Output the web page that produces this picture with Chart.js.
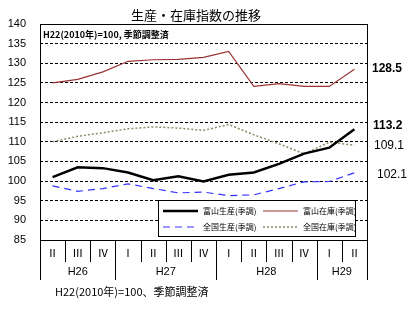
<!DOCTYPE html>
<html>
<head>
<meta charset="utf-8">
<script src="https://cdn.jsdelivr.net/npm/chart.js@4.4.1/dist/chart.umd.min.js"></script>
<style>
html, body { margin: 0; padding: 0; background: #fff; }
#wrap { width: 411px; height: 322px; }
</style>
</head>
<body>
<div id="wrap"><canvas id="stockChart" width="411" height="322"></canvas></div>
<script>
// quarters H26 II .. H29 II
var quarters = ['Ⅱ', 'Ⅲ', 'Ⅳ', 'Ⅰ', 'Ⅱ', 'Ⅲ', 'Ⅳ', 'Ⅰ', 'Ⅱ', 'Ⅲ', 'Ⅳ', 'Ⅰ', 'Ⅱ'];
var years = ['H26', 'H27', 'H28', 'H29'];
var yearSpans = [3, 4, 4, 2];

var toyamaProd = [101.0, 103.5, 103.3, 102.2, 100.2, 101.2, 99.9, 101.6, 102.2, 104.4, 107.0, 108.5, 113.2];
var toyamaStock = [125.0, 125.9, 127.8, 130.5, 130.9, 131.0, 131.5, 133.0, 124.1, 124.8, 124.1, 124.1, 128.5];
var nationProd = [98.8, 97.4, 98.1, 99.3, 98.1, 97.0, 97.2, 96.3, 96.5, 98.1, 99.8, 99.9, 102.1];
var nationStock = [110.0, 111.4, 112.3, 113.3, 113.8, 113.5, 112.9, 114.4, 111.8, 109.5, 106.9, 109.9, 109.1];

var yMin = 85, yMax = 140, yStep = 5;

var JP = '"Noto Sans CJK JP", sans-serif';
var NUM = '"Liberation Sans", Arial, sans-serif';

var extras = {
    id: 'extras',
    beforeDatasetsDraw: function (chart) {
        var ctx = chart.ctx, a = chart.chartArea;
        var xs = chart.scales.x;
        ctx.save();
        ctx.strokeStyle = '#000';
        ctx.lineWidth = 1;
        // plot frame
        ctx.strokeRect(a.left + 0.5, a.top + 0.5, a.right - a.left, a.bottom - a.top);

        // category box under the axis
        var cell = (a.right - a.left) / quarters.length;
        ctx.beginPath();
        for (var i = 1; i < quarters.length; i++) {
            var x = Math.round(a.left + i * cell) + 0.5;
            ctx.moveTo(x, a.bottom);
            ctx.lineTo(x, a.bottom + 22);
        }
        var idx = 0;
        ctx.moveTo(a.left + 0.5, a.bottom);
        ctx.lineTo(a.left + 0.5, a.bottom + 40);
        for (var j = 0; j < yearSpans.length; j++) {
            idx += yearSpans[j];
            var xe = Math.round(a.left + idx * cell) + 0.5;
            ctx.moveTo(xe, a.bottom);
            ctx.lineTo(xe, a.bottom + 40);
        }
        ctx.stroke();

        ctx.fillStyle = '#000';
        ctx.textAlign = 'center';
        ctx.textBaseline = 'middle';
        ctx.font = '11px ' + JP;
        for (var k = 0; k < quarters.length; k++) {
            ctx.fillText(quarters[k], xs.getPixelForValue(k), a.bottom + 13);
        }
        ctx.font = '11px ' + NUM;
        idx = 0;
        for (var m = 0; m < years.length; m++) {
            var x0 = a.left + idx * cell;
            idx += yearSpans[m];
            var x1 = a.left + idx * cell;
            ctx.fillText(years[m], (x0 + x1) / 2, a.bottom + 32);
        }

        // title and notes
        ctx.font = '13px ' + JP;
        ctx.fillText('生産・在庫指数の推移', 196, 15);
        ctx.textAlign = 'left';
        ctx.font = 'bold 9px ' + JP;
        ctx.fillText('H22(2010年)=100, 季節調整済', a.left + 3, 35);
        ctx.font = '11px ' + JP;
        ctx.fillText('H22(2010年)=100、季節調整済', 55, 292);
        ctx.restore();
    },
    afterDatasetsDraw: function (chart) {
        var ctx = chart.ctx, ys = chart.scales.y;
        ctx.save();
        // end-of-series values on the right
        var ends = [
            { v: toyamaStock[toyamaStock.length - 1], bold: true, x: 372, dy: 0 },
            { v: toyamaProd[toyamaProd.length - 1], bold: true, x: 373, dy: -4 },
            { v: nationStock[nationStock.length - 1], bold: false, x: 374, dy: 0 },
            { v: nationProd[nationProd.length - 1], bold: false, x: 377, dy: 2 }
        ];
        ctx.fillStyle = '#000';
        ctx.textAlign = 'left';
        ctx.textBaseline = 'middle';
        ends.forEach(function (e) {
            ctx.font = (e.bold ? 'bold ' : '') + '12px ' + NUM;
            ctx.fillText(e.v.toFixed(1), e.x, ys.getPixelForValue(e.v) + e.dy);
        });

        // legend box inside the plot
        var lx = 158, ly = 200, lw = 197, lh = 36;
        ctx.fillStyle = '#fff';
        ctx.fillRect(lx, ly, lw, lh);
        ctx.strokeStyle = '#000';
        ctx.lineWidth = 1;
        ctx.strokeRect(lx + 0.5, ly + 0.5, lw, lh);
        var slots = [[163, 211], [263, 211], [163, 227], [263, 227]];
        ctx.font = '8px ' + JP;
        chart.data.datasets.forEach(function (ds, n) {
            var sx = slots[n][0], sy = slots[n][1];
            ctx.save();
            ctx.strokeStyle = ds.borderColor;
            ctx.lineWidth = ds.borderWidth;
            ctx.setLineDash(ds.borderDash || []);
            ctx.beginPath();
            ctx.moveTo(sx, sy);
            ctx.lineTo(sx + 35, sy);
            ctx.stroke();
            ctx.restore();
            ctx.fillStyle = '#000';
            ctx.fillText(ds.label, sx + 40, sy);
        });
        ctx.restore();
    }
};

var ctx = document.getElementById('stockChart').getContext('2d');
var stockChart = new Chart(ctx, {
    type: 'line',
    data: {
        labels: quarters,
        datasets: [{
            label: '富山生産(季調)',
            data: toyamaProd,
            borderColor: '#000000',
            borderWidth: 2.5,
            order: 1
        }, {
            label: '富山在庫(季調)',
            data: toyamaStock,
            borderColor: '#993333',
            borderWidth: 1.2,
            order: 3
        }, {
            label: '全国生産(季調)',
            data: nationProd,
            borderColor: '#3333ff',
            borderWidth: 1.2,
            borderDash: [7, 5],
            order: 2
        }, {
            label: '全国在庫(季調)',
            data: nationStock,
            borderColor: '#8c8c66',
            borderWidth: 1.5,
            borderDash: [2, 2],
            order: 4
        }]
    },
    options: {
        responsive: false,
        animation: false,
        layout: { padding: { left: 0, right: 44, top: 24, bottom: 82 } },
        elements: { point: { radius: 0 }, line: { tension: 0 } },
        plugins: {
            legend: { display: false },
            tooltip: { enabled: false },
            title: { display: false }
        },
        scales: {
            x: {
                display: false,
                offset: true
            },
            y: {
                min: yMin,
                max: yMax,
                afterFit: function (scale) { scale.width = 40; },
                ticks: {
                    stepSize: yStep,
                    padding: 14,
                    color: '#000',
                    font: { family: NUM, size: 11 }
                },
                border: { display: false, dash: [3, 2] },
                grid: {
                    drawTicks: false,
                    color: function (c) {
                        var v = c.tick && c.tick.value;
                        return (v === yMin || v === yMax) ? 'rgba(0,0,0,0)' : '#000';
                    }
                }
            }
        }
    },
    plugins: [extras]
});
</script>
</body>
</html>
